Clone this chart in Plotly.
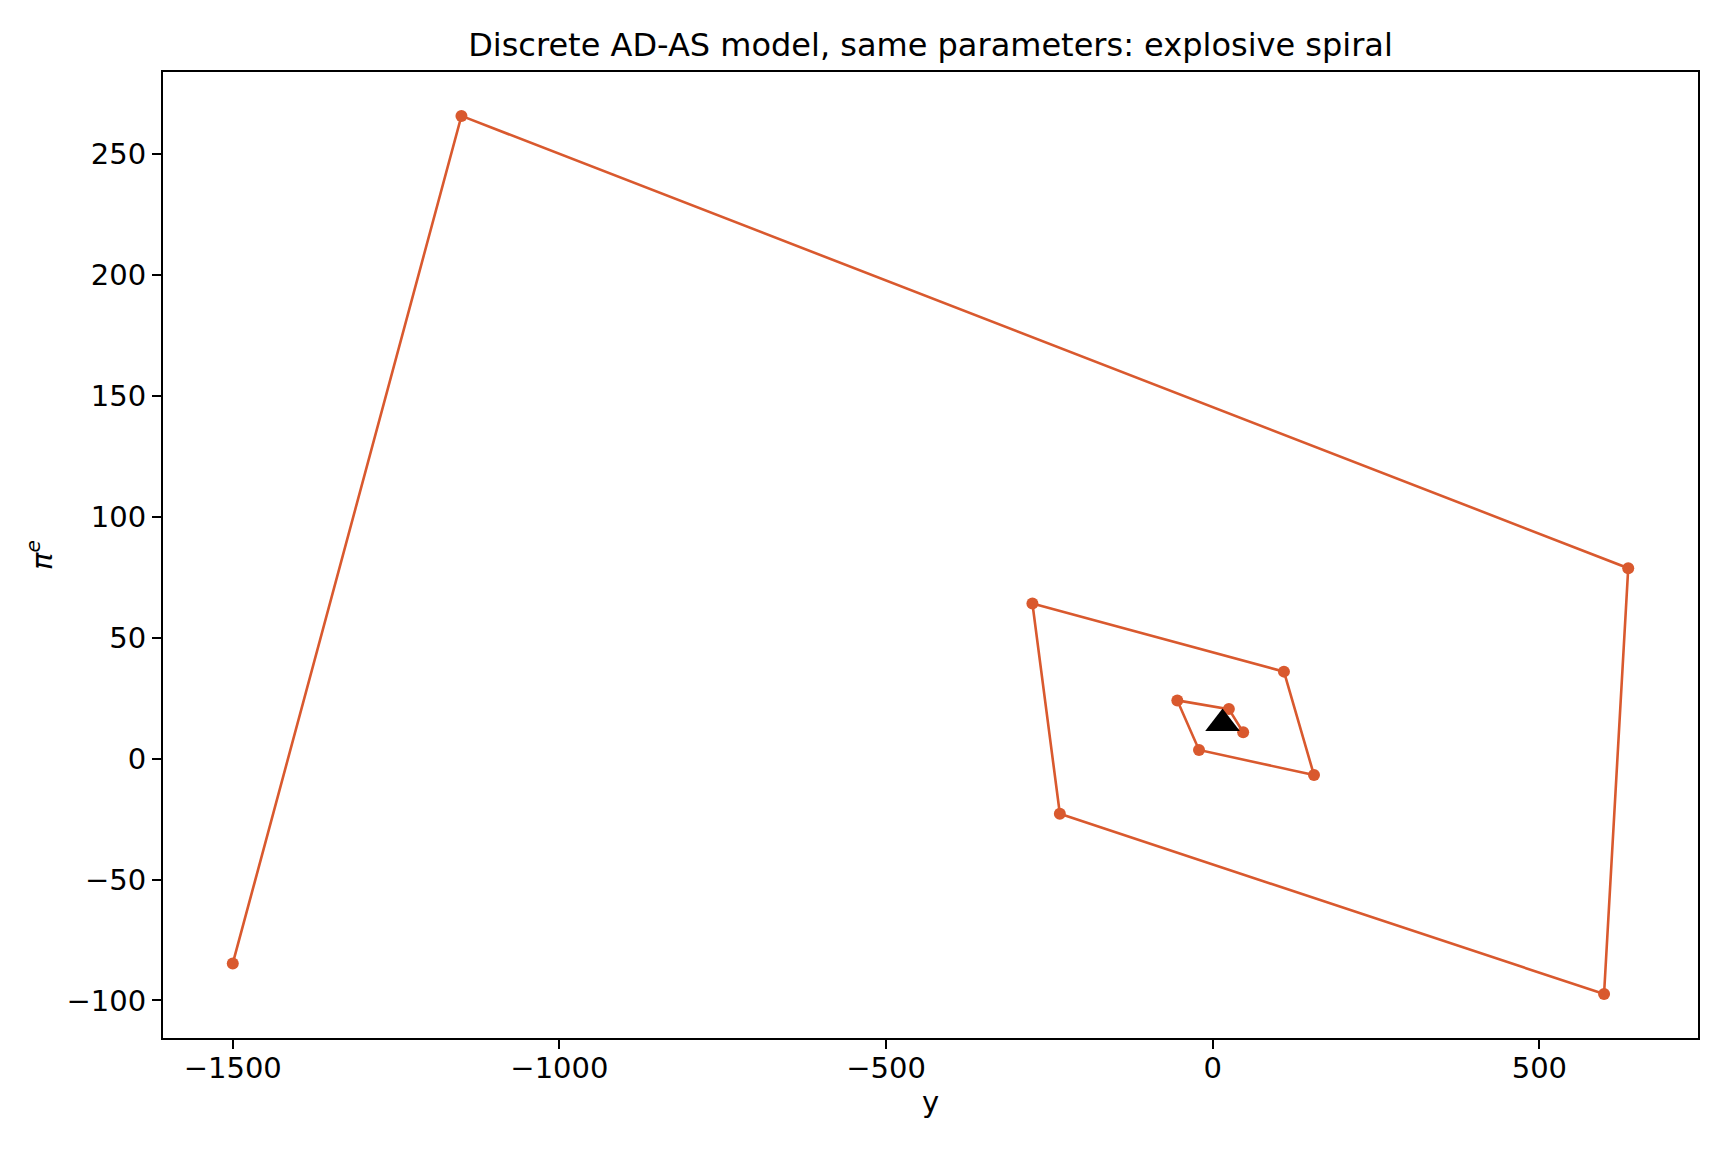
import plotly.graph_objects as go

# trajectory, in time order (starts near the equilibrium)
y_vals = [46.6, 24.7, -54.2, -21.0, 155.0, 109.0, -276.0, -234.0, 599.0, 636.0, -1150.0, -1500.0]
pi_e_vals = [10.9, 20.5, 24.1, 3.6, -6.8, 36.0, 64.2, -22.8, -97.4, 78.8, 265.9, -84.7]

# equilibrium marker
eq_y = [15.0]
eq_pi = [14.5]

line_color = "#d9592e"

fig = go.Figure()
fig.add_trace(go.Scatter(
    x=y_vals, y=pi_e_vals, mode="lines+markers",
    line=dict(color=line_color, width=2.6),
    marker=dict(color=line_color, size=12),
    showlegend=False,
))
fig.add_trace(go.Scatter(
    x=eq_y, y=eq_pi, mode="markers",
    marker=dict(color="black", symbol="triangle-up", size=30),
    showlegend=False,
))

# matplotlib-style 5% margins
xmin, xmax = min(y_vals), max(y_vals)
ymin, ymax = min(pi_e_vals), max(pi_e_vals)
xpad = 0.05 * (xmax - xmin)
ypad = 0.05 * (ymax - ymin)

axis_common = dict(
    showgrid=False, zeroline=False,
    showline=True, mirror=True, linecolor="black", linewidth=2,
    ticks="outside", ticklen=9, tickwidth=2, tickcolor="black",
    tickfont=dict(size=29, color="black"),
)

fig.update_xaxes(range=[xmin - xpad, xmax + xpad], dtick=500, tick0=0,
                 ticklabelstandoff=-6,
                 title=dict(text="y", font=dict(size=29, color="black"), standoff=4),
                 **axis_common)
fig.update_yaxes(range=[ymin - ypad, ymax + ypad], dtick=50, tick0=0,
                 title=dict(text="<i>π</i><sup><i>e</i></sup>", font=dict(size=29, color="black"), standoff=5),
                 **axis_common)

fig.update_layout(
    width=1728, height=1152,
    plot_bgcolor="white", paper_bgcolor="white",
    font=dict(family="DejaVu Sans", color="black"),
    title=dict(text="Discrete AD-AS model, same parameters: explosive spiral",
               xref="paper", x=0.5, xanchor="center", y=1 - 37 / 1152, yanchor="middle",
               font=dict(size=32, color="black")),
    margin=dict(l=155, r=38, t=64, b=122),
)

fig.write_html("out.html")
